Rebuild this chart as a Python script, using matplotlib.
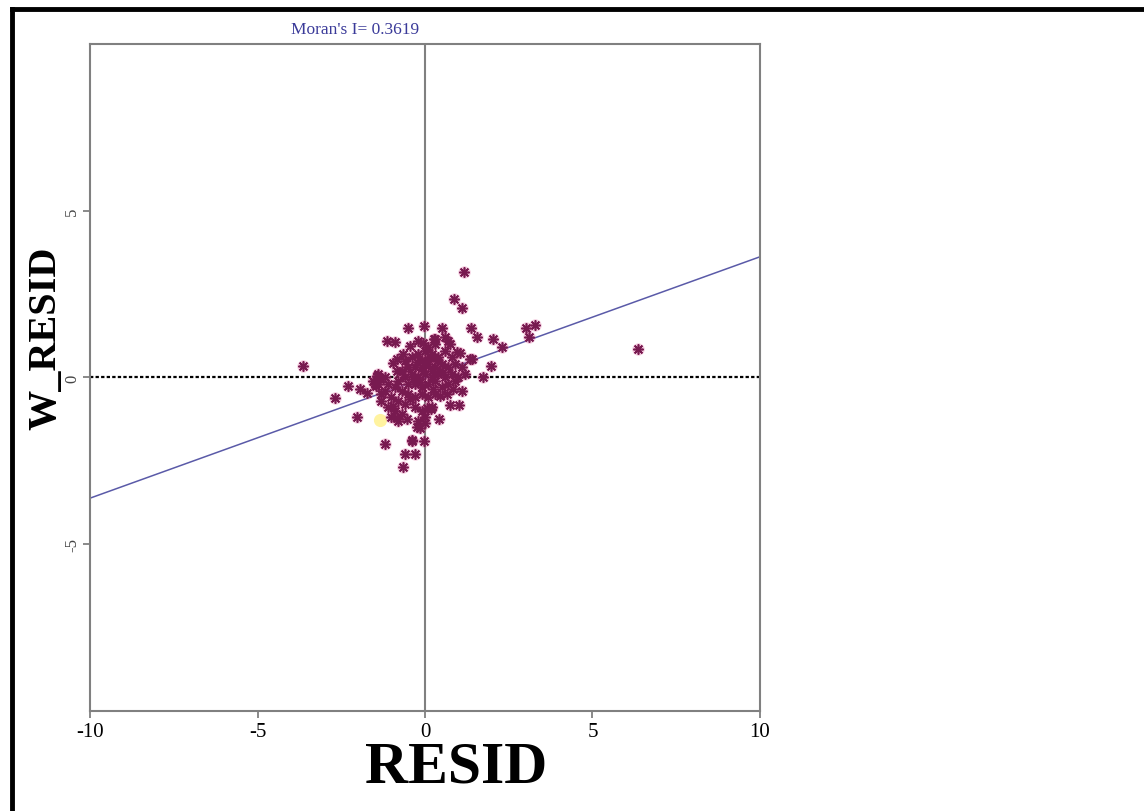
import matplotlib
matplotlib.use("Agg")
import matplotlib.pyplot as plt
from matplotlib.lines import Line2D

# Moran scatter plot: residuals vs spatially lagged residuals
MORAN_I = 0.3619
TICKS = [-10, -5, 0, 5, 10]
X_LABEL = "RESID"
Y_LABEL = "W_RESID"

# points (outliers first, then the dense core)
resid = [
    1.16, 0.87, 1.10, -0.51, -0.03, 0.51, 1.38, 1.56, 2.04, 2.30,
    3.03, 3.27, 3.11, -1.14, -0.89, 0.27, 1.40, 1.98, 1.72, -3.63,
    -2.30, -1.94, -2.70, -2.04, -1.20, -0.39, -0.03, -0.61, -0.31, -0.67,
    -0.25, 0.01, 0.45, 0.75, 1.02, 0.41, 0.19, -1.44, -1.46, 6.36,
    -0.05, 0.30, 0.70, 1.04, 1.34, -0.95, -0.85, -1.34, -1.54, -1.39,
    -1.74, -0.95, -0.85, -0.55, -0.45, 0.05, -0.15, -0.40,
    -0.6, -0.4, -0.2, 0.0, 0.2, 0.4, 0.6, 0.8, 0.1, -0.1,
    -0.5, -0.3, -0.1, 0.1, 0.3, 0.5, 0.7, 0.9, -0.7, 0.2,
    -0.6, -0.4, -0.2, 0.0, 0.2, 0.4, 0.6, 0.8, 1.0, -0.8,
    -0.5, -0.3, -0.1, 0.1, 0.3, 0.5, 0.7, -0.9, -1.1, -1.2,
    -0.7, -0.5, -0.3, -0.1, 0.1, 0.3, -1.0, -0.8, -0.6, -1.3,
    -1.1, -0.9, -0.7, -1.0, -0.8, -0.3, -0.1, 0.2, 0.0, -0.2,
    0.05, -0.05, 0.15, -0.25, 0.35, 0.45, -0.35, 0.25, -0.15, 0.55,
    1.1, 1.2, 0.9, 1.1, -1.4, -1.2, -1.5, -1.3, 0.65, 0.85,
    -0.85, -0.65, 0.75, 0.95, -0.45, 0.3, -0.2, 0.6,
]
w_resid = [
    3.16, 2.36, 2.08, 1.48, 1.53, 1.47, 1.48, 1.20, 1.16, 0.92,
    1.48, 1.58, 1.22, 1.10, 1.06, 1.16, 0.56, 0.34, 0.00, 0.34,
    -0.26, -0.36, -0.62, -1.18, -1.98, -1.90, -1.90, -2.28, -2.28, -2.68,
    -1.50, -1.38, -0.56, -0.84, -0.82, -1.26, -0.96, 0.04, -0.26, 0.84,
    1.04, 1.16, 1.09, 0.74, 0.54, 0.44, 0.19, -0.06, -0.11, -0.21,
    -0.46, -0.86, -1.21, -1.26, -0.66, -0.91, -1.51, -1.86,
    0.5, 0.6, 0.7, 0.8, 0.7, 0.6, 0.8, 0.6, 0.9, 0.5,
    0.3, 0.3, 0.3, 0.4, 0.3, 0.4, 0.3, 0.4, 0.2, 0.2,
    0.0, 0.1, 0.0, 0.1, 0.0, 0.1, 0.0, 0.1, 0.0, -0.1,
    -0.2, -0.2, -0.3, -0.2, -0.1, -0.3, -0.2, -0.3, -0.2, -0.4,
    -0.4, -0.5, -0.6, -0.5, -0.6, -0.5, -0.6, -0.7, -0.8, -0.7,
    -0.9, -1.0, -1.1, -1.2, -1.3, -0.9, -1.0, -0.9, -1.2, -1.3,
    0.5, 0.2, 0.6, 0.45, 0.5, 0.2, -0.05, -0.35, -0.15, 0.15,
    0.3, 0.1, -0.1, -0.4, 0.1, 0.0, -0.2, -0.5, -0.5, -0.35,
    0.55, 0.7, 1.0, 0.75, 0.95, 1.0, 1.1, 1.2,
]
# one highlighted (selected) observation
sel_resid = [-1.34]
sel_w_resid = [-1.28]


def main():
    plt.rcParams["font.family"] = ["Liberation Serif", "DejaVu Serif"]
    fig = plt.figure(figsize=(11.44, 8.12), dpi=100)
    ax = fig.add_axes([0.0787, 0.1232, 0.5856, 0.8214])

    ax.set_xlim(-10, 10)
    ax.set_ylim(-10, 10)

    # reference lines
    ax.axvline(0, color="#808080", lw=1.5, zorder=1)
    ax.axhline(0, color="black", lw=1.6, ls=(0, (1.5, 1)), zorder=1)
    ax.axline((0, 0), slope=MORAN_I, color="#5a5aa8", lw=1.1, zorder=2)

    ax.scatter(sel_resid, sel_w_resid, s=90, color="#fff3a0", marker="o",
               linewidths=0, zorder=3)
    ax.scatter(resid, w_resid, s=80, color="#d8508f", marker="o",
               alpha=0.3, linewidths=0, zorder=3)
    ax.scatter(resid, w_resid, s=45, marker=(8, 2, 0), color="#781a50",
               linewidths=1.2, zorder=4)

    for side in ax.spines.values():
        side.set_color("#808080")
        side.set_linewidth(1.5)

    ax.set_xticks(TICKS)
    ax.set_yticks(TICKS[1:-1])
    ax.set_xticklabels([str(t) for t in TICKS], fontsize=15)
    ax.set_yticklabels([str(t) for t in TICKS[1:-1]], fontsize=12,
                       rotation=90, va="center", color="#444444")
    ax.tick_params(axis="both", direction="out", length=5, color="#808080",
                   width=1.3)
    ax.tick_params(axis="x", pad=3)
    ax.tick_params(axis="y", pad=2)

    ax.set_xlabel(X_LABEL, fontsize=43, fontweight="bold")
    ax.xaxis.set_label_coords(0.546, -0.045, transform=ax.transAxes)
    ax.xaxis.label.set_va("top")
    ax.set_ylabel(Y_LABEL, fontsize=29, fontweight="bold")
    ax.yaxis.set_label_coords(-0.066, 0.56, transform=ax.transAxes)
    ax.yaxis.label.set_va("center")

    fig.text(0.31, 0.963, "Moran's I= " + str(MORAN_I), color="#3a3a99",
             fontsize=12.5, ha="center", va="center")

    # thick window frame on the left and top edges
    fig.add_artist(Line2D([0.0105, 0.0105], [0.0, 0.9877], color="black",
                          lw=3.5, transform=fig.transFigure))
    fig.add_artist(Line2D([0.0105, 1.0], [0.9877, 0.9877], color="black",
                          lw=3.5, transform=fig.transFigure))

    fig.savefig("out.png", dpi=100)
    plt.close(fig)


if __name__ == "__main__":
    main()
